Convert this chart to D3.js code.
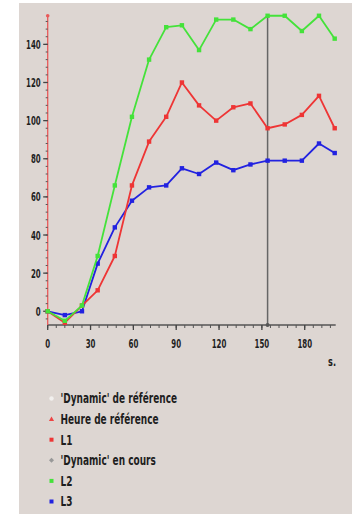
<!DOCTYPE html>
<html><head><meta charset="utf-8">
<script src="https://cdn.jsdelivr.net/npm/d3@7"></script>
<style>
html,body{margin:0;padding:0;background:#fff;}
svg{display:block;}
text{font-family:"Liberation Sans Narrow","DejaVu Sans Condensed","DejaVu Sans",sans-serif;font-weight:bold;fill:#1e1e1e;}
</style></head>
<body>
<svg id="c" width="353" height="516"></svg>
<script>
const times = [0, 12, 24, 35, 47, 59, 71, 83, 94, 106, 118, 130, 142, 154, 166, 178, 190, 201];
const L1 = [0, -6, 3, 11, 29, 66, 89, 102, 120, 108, 100, 107, 109, 96, 98, 103, 113, 96];
const L2 = [0, -5, 3, 29, 66, 102, 132, 149, 150, 137, 153, 153, 148, 155, 155, 147, 155, 143];
const L3 = [0, -2, 0, 25, 44, 58, 65, 66, 75, 72, 78, 74, 77, 79, 79, 79, 88, 83];
const xTicks = [0, 30, 60, 90, 120, 150, 180];
const yTicks = [0, 20, 40, 60, 80, 100, 120, 140];
const cursorTime = 154;
const legendLabels = ["'Dynamic' de référence", "Heure de référence", "L1", "'Dynamic' en cours", "L2", "L3"];

const svg = d3.select("#c");
svg.append("rect").attr("x",19).attr("y",3).attr("width",333).attr("height",511).attr("fill","#ddd6d2");

const x = d3.scaleLinear().domain([0, 201.7]).range([47.7, 335.7]);
const y = d3.scaleLinear().domain([-7.2, 155.4]).range([325, 15]);

function ctext(parent, tx, ty, str, size, sx, anchor){
  return parent.append("g").attr("transform",`translate(${tx},${ty}) scale(${sx},1)`)
    .append("text").attr("text-anchor",anchor||"start").attr("font-size",size).text(str);
}

// X axis
const gx = svg.append("g").attr("transform","translate(0,325)");
gx.append("line").attr("x1",x(0)).attr("x2",x(201.7)).attr("stroke","#555").attr("stroke-width",1.5);
gx.selectAll("line.minor").data(d3.range(0, 202, 6)).join("line").attr("class","minor")
  .attr("x1",d=>x(d)).attr("x2",d=>x(d)).attr("y1",0).attr("y2",3).attr("stroke","#555").attr("stroke-width",1);
gx.selectAll("line.major").data(xTicks).join("line").attr("class","major")
  .attr("x1",d=>x(d)).attr("x2",d=>x(d)).attr("y1",0).attr("y2",5).attr("stroke","#444").attr("stroke-width",1.3);
xTicks.forEach(d=>ctext(gx, x(d), 22.5, d, 13, 0.6, "middle"));
ctext(svg, 332, 366, "s.", 13, 0.7, "middle");

// Y axis
const gy = svg.append("g");
gy.append("line").attr("x1",x(0)).attr("x2",x(0)).attr("y1",y(155.4)).attr("y2",y(-7.2)).attr("stroke","#e85a5a").attr("stroke-width",1.3);
gy.selectAll("line.minor").data(d3.range(-4, 156, 4)).join("line").attr("class","minor")
  .attr("x1",x(0)-2).attr("x2",x(0)).attr("y1",d=>y(d)).attr("y2",d=>y(d)).attr("stroke","#555").attr("stroke-width",1);
gy.selectAll("line.major").data(yTicks).join("line").attr("class","major")
  .attr("x1",x(0)-4.5).attr("x2",x(0)).attr("y1",d=>y(d)).attr("y2",d=>y(d)).attr("stroke","#444").attr("stroke-width",1.3);
yTicks.forEach(d=>ctext(gy, x(0)-7, y(d)+4.5, d, 13, 0.6, "end"));
gy.append("circle").attr("cx",x(0)).attr("cy",y(155)).attr("r",1.8).attr("fill","#e85a5a");

// cursor line
svg.append("line").attr("x1",x(cursorTime)).attr("x2",x(cursorTime)).attr("y1",y(155.4)).attr("y2",y(-7.2))
  .attr("stroke","#666").attr("stroke-width",1.5);
svg.append("circle").attr("cx",x(cursorTime)).attr("cy",y(-7.2)).attr("r",2).attr("fill","#555");

// series
const series = [
  {vals:L3, color:"#2222e0"},
  {vals:L1, color:"#ee3535"},
  {vals:L2, color:"#44e23a"},
];
const line = d3.line().x((d,i)=>x(times[i])).y(d=>y(d));
series.forEach(s=>{
  svg.append("path").datum(s.vals).attr("d",line).attr("fill","none")
    .attr("stroke",s.color).attr("stroke-width",1.8).attr("stroke-linejoin","round");
  svg.selectAll(null).data(s.vals).join("rect")
    .attr("x",(d,i)=>x(times[i])-2.2).attr("y",d=>y(d)-2.2).attr("width",4.4).attr("height",4.4)
    .attr("fill",s.color);
});

// legend
const lg = svg.append("g");
const rowY = d3.range(legendLabels.length).map(i=>398.5 + i*20.6);
legendLabels.forEach((t,i)=>{
  const cy = rowY[i], cx = 51.5;
  if(i===0) lg.append("circle").attr("cx",cx).attr("cy",cy).attr("r",2.2).attr("fill","#f2f0ee");
  else if(i===1) lg.append("path").attr("d",`M${cx},${cy-2.6}L${cx+2.6},${cy+2}L${cx-2.6},${cy+2}Z`).attr("fill","#ee4444");
  else if(i===3) lg.append("path").attr("d",`M${cx},${cy-2.5}L${cx+2.5},${cy}L${cx},${cy+2.5}L${cx-2.5},${cy}Z`).attr("fill","#999");
  else {
    const col = i===2?"#ee3535":(i===4?"#44e23a":"#2222e0");
    lg.append("rect").attr("x",cx-2).attr("y",cy-2).attr("width",4).attr("height",4).attr("fill",col);
  }
  ctext(lg, 60.5, cy+4.8, t, 13.5, 0.74, "start");
});
</script>
</body></html>
